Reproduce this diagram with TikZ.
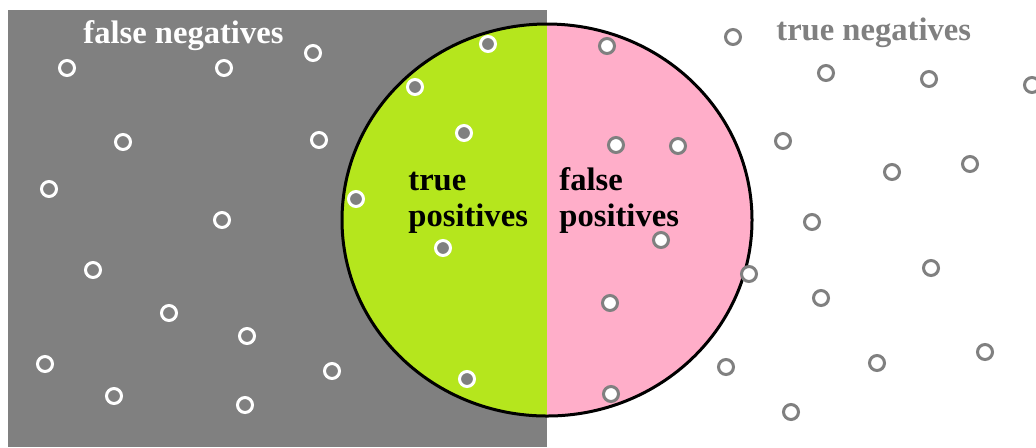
\documentclass[tikz,border=0pt]{standalone}
\usepackage{fontspec}
\setmainfont{Liberation Serif}
\usetikzlibrary{positioning}

\definecolor{fngray}{RGB}{128,128,128}
\definecolor{tpgreen}{RGB}{181,230,29}
\definecolor{fppink}{RGB}{255,174,201}

\begin{document}
\begin{tikzpicture}[x=0.5pt, y=-0.5pt,
    pos dot/.style={circle, draw=white, fill=fngray, line width=1.5pt, minimum size=7.5pt, inner sep=0pt},
    neg dot/.style={circle, draw=fngray, fill=white, line width=1.5pt, minimum size=7.5pt, inner sep=0pt},
    set label/.style={font=\fontsize{16.3}{18}\selectfont\bfseries, inner sep=0pt, anchor=base west, align=left}]
    \useasboundingbox (0,0) rectangle (1036,447);
    \fill[fngray] (8,10) rectangle (547,447);

    \begin{scope}
        \clip (0,0) rectangle (547,447);
        \fill[tpgreen] (547,220) ellipse [x radius=102.5pt, y radius=98pt];
    \end{scope}
    \begin{scope}
        \clip (547,0) rectangle (1036,447);
        \fill[fppink] (547,220) ellipse [x radius=102.5pt, y radius=98pt];
    \end{scope}
    \draw[line width=1.5pt] (547,220) ellipse [x radius=102.5pt, y radius=98pt];

    \foreach \x/\y [count=\i] in {67/68, 224/68, 313/53, 123/142, 319/140, 49/189, 222/220,
        93/270, 169/313, 247/336, 45/364, 114/396, 245/405, 332/371, 488/44, 415/87,
        464/133, 356/199, 443/248, 467/379}
        \node[pos dot] (p\i) at (\x,\y) {};
    \foreach \x/\y [count=\i] in {607/46, 616/145, 678/146, 661/240, 610/303, 611/394,
        749/274, 726/367, 733/37, 826/73, 929/79, 1032/85, 783/141, 892/172, 970/164,
        812/222, 931/268, 821/298, 877/363, 985/352, 791/412}
        \node[neg dot] (n\i) at (\x,\y) {};

    \node[set label, text=white] (fn) at (83,43) {false negatives};
    \node[set label, text=fngray] (tn) at (776,40) {true negatives};
    \node[set label] (tp) at (408,226) {true\\positives};
    \node[set label] (fp) at (559,226) {false\\positives};
\end{tikzpicture}
\end{document}
